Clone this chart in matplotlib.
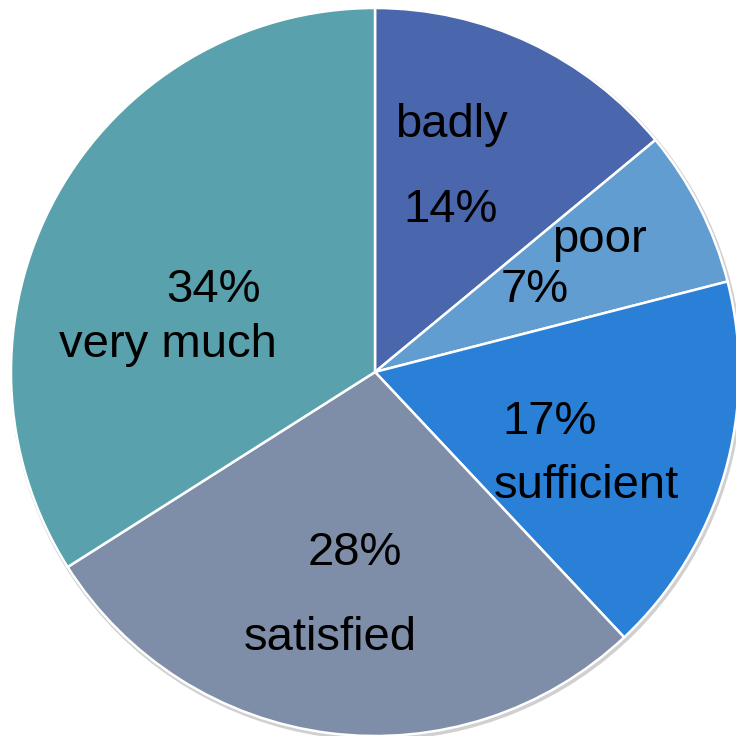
import matplotlib
matplotlib.use("Agg")
import matplotlib.pyplot as plt
from matplotlib.patches import Circle

categories = ["badly", "poor", "sufficient", "satisfied", "very much"]
shares = [14, 7, 17, 28, 34]
colors = ["#4A67AD", "#619DD0", "#2A7FD6", "#7F8EA8", "#59A2AD"]

# label layout: (name position, percent position) in figure pixels, top-left origin
label_pos = {
    "badly": ((451, 125), (451, 210)),
    "poor": ((599, 240), (535, 290)),
    "sufficient": ((586, 486), (550, 422)),
    "satisfied": ((330, 638), (355, 553)),
    "very much": ((168, 345), (213, 290)),
}

W = H = 736
CX, CY, R = 375, 372, 364

plt.rcParams["font.family"] = ["Liberation Sans", "DejaVu Sans"]
fig = plt.figure(figsize=(W / 100, H / 100), dpi=100)
ax = fig.add_axes([0, 0, 1, 1])

# soft rim behind the pie
ax.add_patch(Circle((0.004, -0.006), 1.006, facecolor="#d0d0d0", edgecolor="none", zorder=0))

ax.pie(shares, colors=colors, startangle=90, counterclock=False, radius=1.0,
       wedgeprops=dict(edgecolor="white", linewidth=1.8), frame=True)
ax.set_xlim(-CX / R, (W - CX) / R)
ax.set_ylim(-(H - CY) / R, CY / R)
ax.set_aspect("equal")
ax.axis("off")


def to_data(p):
    return (p[0] - CX) / R, (CY - p[1]) / R


for name, value in zip(categories, shares):
    npos, ppos = label_pos[name]
    x, y = to_data(npos)
    ax.text(x, y, name, ha="center", va="center", fontsize=34, color="black", zorder=5)
    x, y = to_data(ppos)
    ax.text(x, y, f"{value}%", ha="center", va="center", fontsize=34, color="black", zorder=5)

fig.savefig("out.png", dpi=100)
